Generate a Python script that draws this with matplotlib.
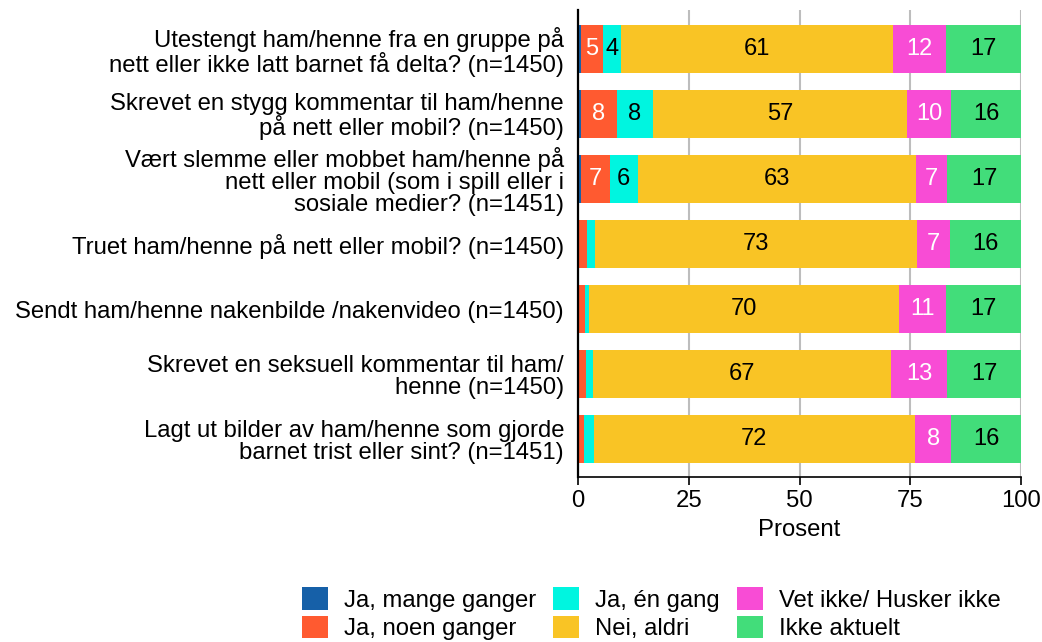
import numpy as np
import matplotlib.pyplot as plt

plt.rcParams['font.family'] = ['Liberation Sans', 'DejaVu Sans']

questions = [
    "Utestengt ham/henne fra en gruppe på\nnett eller ikke latt barnet få delta? (n=1450)",
    "Skrevet en stygg kommentar til ham/henne\npå nett eller mobil? (n=1450)",
    "Vært slemme eller mobbet ham/henne på\nnett eller mobil (som i spill eller i\nsosiale medier? (n=1451)",
    "Truet ham/henne på nett eller mobil? (n=1450)",
    "Sendt ham/henne nakenbilde /nakenvideo (n=1450)",
    "Skrevet en seksuell kommentar til ham/\nhenne (n=1450)",
    "Lagt ut bilder av ham/henne som gjorde\nbarnet trist eller sint? (n=1451)",
]

categories = ["Ja, mange ganger", "Ja, noen ganger", "Ja, én gang",
              "Nei, aldri", "Vet ikke/ Husker ikke", "Ikke aktuelt"]

mange = [0.7, 0.6, 0.6, 0.3, 0.3, 0.3, 0.3]
noen = [4.9, 8.2, 6.6, 1.7, 1.3, 1.4, 1.1]
en_gang = [4.2, 8.1, 6.3, 1.8, 0.8, 1.7, 2.2]
aldri = [61.2, 57.4, 62.8, 72.8, 70.1, 67.3, 72.4]
vet_ikke = [12.1, 9.9, 7.0, 7.3, 10.6, 12.6, 8.3]
ikke_aktuelt = [16.9, 15.8, 16.7, 16.1, 16.9, 16.7, 15.7]

series = [mange, noen, en_gang, aldri, vet_ikke, ikke_aktuelt]
colors = ['#1660a8', '#ff5a30', '#00f5e0', '#f9c425', '#f84cd5', '#42dd7a']
text_colors = ['white', 'white', 'black', 'black', 'white', 'black']

fig = plt.figure(figsize=(10.42, 6.42), dpi=100)
ax = fig.add_axes([578 / 1042, 1 - 477 / 642, 443 / 1042, 467 / 642])

y = np.arange(len(questions))
left = np.zeros(len(questions))
for vals, col, tcol, name in zip(series, colors, text_colors, categories):
    vals = np.array(vals)
    ax.barh(y, vals, left=left, height=0.74, color=col, label=name, zorder=2)
    for yi, (l, v) in enumerate(zip(left, vals)):
        if v >= 4:
            ax.text(l + v / 2, yi, f"{v:.0f}", ha='center', va='center',
                    color=tcol, fontsize=17, zorder=3)
    left += vals

ax.set_xlim(0, 100)
ax.set_ylim(6.58, -0.6)
ax.set_yticks(y)
ax.set_yticklabels(questions, fontsize=17.2, ha='right', linespacing=1.0)
ax.tick_params(axis='y', length=0, pad=10)
ax.set_xticks([0, 25, 50, 75, 100])
ax.tick_params(axis='x', labelsize=17.2, length=6, width=1.2, colors='black')
ax.set_xlabel("Prosent", fontsize=17.2, labelpad=5)
ax.grid(axis='x', color='#bdbdbd', linewidth=1.5, zorder=0)
for s in ['top', 'right']:
    ax.spines[s].set_visible(False)
ax.spines['left'].set_linewidth(1.6)
ax.spines['bottom'].set_linewidth(1.2)

fig.legend(loc='upper left', bbox_to_anchor=(302 / 1042, 1 - 587 / 642), ncol=3,
           frameon=False, fontsize=17.2, handlelength=1.09, handleheight=1.09,
           columnspacing=0.71, labelspacing=0.17, handletextpad=0.67,
           borderpad=0, borderaxespad=0)

fig.savefig("out.png", dpi=100)
